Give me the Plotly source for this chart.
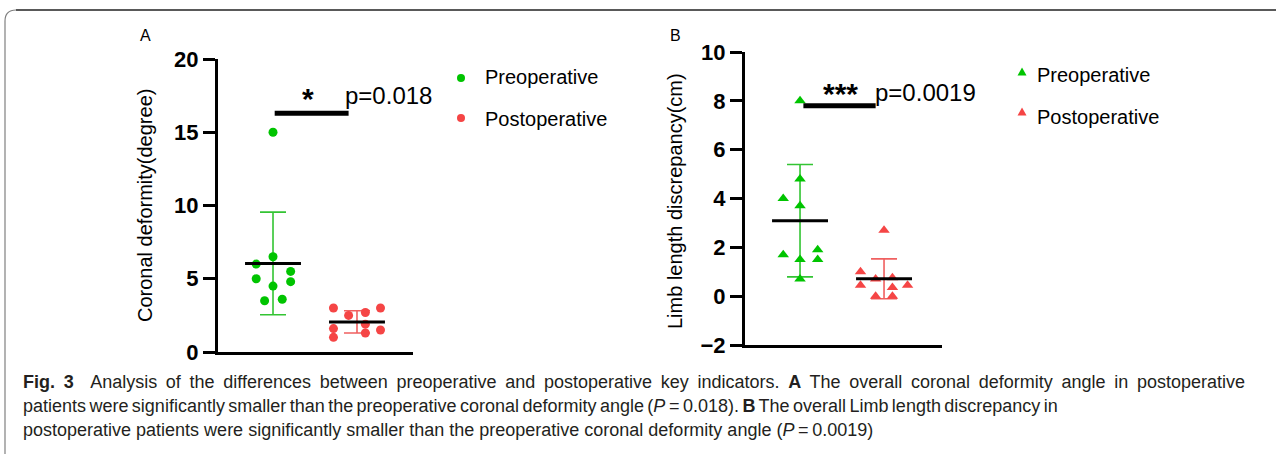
import numpy as np
import plotly.graph_objects as go

W, H = 1276, 454

groups = ["Preoperative", "Postoperative"]
group_pos = [1, 2]

# Panel A: coronal deformity (degree)
a_pre = [15.0, 6.5, 6.0, 5.5, 5.0, 4.8, 4.5, 3.5, 3.6]
a_pre_jit = [0, 0, -0.2, 0.21, -0.2, 0.21, 0, -0.1, 0.11]
a_post = [3.0, 2.5, 2.7, 3.0, 1.6, 1.0, 1.9, 1.3, 1.5]
a_post_jit = [-0.28, -0.1, 0.1, 0.28, -0.28, -0.28, 0.1, 0.1, 0.28]
a_ticks = [0, 5, 10, 15, 20]
a_p_text = "p=0.018"
a_star = "*"
a_sig_y = 16.3

# Panel B: limb length discrepancy (cm)
b_pre = [8.0, 4.8, 4.0, 3.7, 1.7, 1.9, 1.5, 1.5, 0.7]
b_pre_jit = [0, 0, -0.2, 0, -0.2, 0.21, 0, 0.21, 0]
b_post = [2.7, 1.0, 0.45, 0.7, 0.75, 0.35, 0.45, 0.0, 0.0]
b_post_jit = [0, -0.28, -0.28, -0.1, 0.1, 0.1, 0.28, -0.1, 0.1]
b_ticks = [-2, 0, 2, 4, 6, 8, 10]
b_p_text = "p=0.0019"
b_star = "***"
b_sig_y = 7.8

caption_lines = [
    "<b>Fig. 3</b>  Analysis of the differences between preoperative and postoperative key indicators. <b>A</b> The overall coronal deformity angle in postoperative",
    "patients were significantly smaller than the preoperative coronal deformity angle (<i>P</i>\u2009=\u20090.018). <b>B</b> The overall Limb length discrepancy in",
    "postoperative patients were significantly smaller than the preoperative coronal deformity angle (<i>P</i>\u2009=\u20090.0019)",
]
caption_word_spacing = ["3.7px", "-1.6px", "0px"]

GREEN = "#00c400"
GREEN_EB = "#33c433"
RED = "#f54545"
RED_EB = "#f06060"
FONT = "Liberation Sans, Arial, sans-serif"


def px(x):
    return x / W


def py(y):
    return 1 - y / H


fig = go.Figure()


def add_panel(xa, ya, pre, pre_j, post, post_j, symbol):
    for vals, jit, c, col, ecol in [
        (pre, pre_j, group_pos[0], GREEN, GREEN_EB),
        (post, post_j, group_pos[1], RED, RED_EB),
    ]:
        v = np.array(vals)
        m = v.mean()
        sd = v.std(ddof=1)
        # error bar (SD)
        fig.add_trace(go.Scatter(
            x=[c], y=[m], mode="markers", marker=dict(opacity=0, size=1),
            error_y=dict(type="data", array=[sd], visible=True, color=ecol,
                         thickness=1.6, width=13),
            xaxis=xa, yaxis=ya, showlegend=False, hoverinfo="skip"))
        # points
        fig.add_trace(go.Scatter(
            x=[c + j for j in jit], y=vals, mode="markers",
            marker=dict(color=col, size=9 if symbol == "circle" else 10, symbol=symbol,
                        line=dict(width=0)),
            xaxis=xa, yaxis=ya, showlegend=False))
        # mean line
        fig.add_trace(go.Scatter(
            x=[c - 0.333, c + 0.333], y=[m, m], mode="lines",
            line=dict(color="black", width=3),
            xaxis=xa, yaxis=ya, showlegend=False, hoverinfo="skip"))


add_panel("x", "y", a_pre, a_pre_jit, a_post, a_post_jit, "circle")
add_panel("x2", "y2", b_pre, b_pre_jit, b_post, b_post_jit, "triangle-up")

# significance bars
fig.add_trace(go.Scatter(x=[1.02, 1.9], y=[a_sig_y, a_sig_y], mode="lines",
                         line=dict(color="black", width=5), xaxis="x", yaxis="y",
                         showlegend=False))
fig.add_trace(go.Scatter(x=[1.04, 1.9], y=[b_sig_y, b_sig_y], mode="lines",
                         line=dict(color="black", width=5), xaxis="x2", yaxis="y2",
                         showlegend=False))

axis_common = dict(showline=True, linewidth=3, linecolor="black", showgrid=False,
                   zeroline=False, automargin=False)
fig.update_layout(
    template="none",
    width=W, height=H,
    margin=dict(l=0, r=0, t=0, b=0, pad=0, autoexpand=False),
    paper_bgcolor="white", plot_bgcolor="white",
    xaxis=dict(domain=[px(218), px(413)], range=[0.345, 2.667], showticklabels=False,
               ticks="", anchor="y", **axis_common),
    yaxis=dict(domain=[py(352), py(59)], range=[0, 20], tickvals=a_ticks,
               ticks="outside", ticklen=12, tickwidth=3, tickcolor="black",
               tickfont=dict(family=FONT, size=22, color="black", weight="bold"),
               anchor="x", **axis_common),
    xaxis2=dict(domain=[px(745), px(942)], range=[0.345, 2.69], showticklabels=False,
                ticks="", anchor="y2", **axis_common),
    yaxis2=dict(domain=[py(345), py(52)], range=[-2, 10], tickvals=b_ticks,
                ticks="outside", ticklen=12, tickwidth=3, tickcolor="black",
                tickfont=dict(family=FONT, size=22, color="black", weight="bold"),
                anchor="x2", **axis_common),
    font=dict(family=FONT, color="black"),
    showlegend=False,
)

ann = []
# significance text
ann.append(dict(x=1.42, y=17.3, xref="x", yref="y", text=a_star, showarrow=False,
                font=dict(size=30, family=FONT, weight="bold"), xanchor="center", yanchor="middle"))
ann.append(dict(x=1.83, y=17.5, xref="x", yref="y", text=a_p_text, showarrow=False,
                font=dict(size=24, family=FONT), xanchor="left", yanchor="middle"))
ann.append(dict(x=1.48, y=8.3, xref="x2", yref="y2", text=b_star, showarrow=False,
                font=dict(size=30, family=FONT, weight="bold"), xanchor="center", yanchor="middle"))
ann.append(dict(x=1.87, y=8.36, xref="x2", yref="y2", text=b_p_text, showarrow=False,
                font=dict(size=24, family=FONT), xanchor="left", yanchor="middle"))

# axis titles
ann.append(dict(x=px(145), y=py(206), xref="paper", yref="paper",
                text="Coronal deformity(degree)", textangle=-90, showarrow=False,
                font=dict(size=20, family=FONT), xanchor="center", yanchor="middle"))
ann.append(dict(x=px(675), y=py(201), xref="paper", yref="paper",
                text="Limb length discrepancy(cm)", textangle=-90, showarrow=False,
                font=dict(size=20, family=FONT), xanchor="center", yanchor="middle"))

# panel labels
ann.append(dict(x=px(145), y=py(35), xref="paper", yref="paper", text="A",
                showarrow=False, font=dict(size=16, family=FONT),
                xanchor="center", yanchor="middle"))
ann.append(dict(x=px(675), y=py(35), xref="paper", yref="paper", text="B",
                showarrow=False, font=dict(size=16, family=FONT),
                xanchor="center", yanchor="middle"))

# legends (manual)
leg = [
    (461, 78, 483, 77, groups[0], GREEN, "circle"),
    (461, 118, 483, 119, groups[1], RED, "circle"),
    (1022, 72, 1035, 75, groups[0], GREEN, "tri"),
    (1022, 112, 1035, 117, groups[1], RED, "tri"),
]
shapes = []
for mx, my, tx, ty, label, col, kind in leg:
    ann.append(dict(x=px(tx), y=py(ty), xref="paper", yref="paper", text=label,
                    showarrow=False, font=dict(size=20, family=FONT),
                    xanchor="left", yanchor="middle"))
    if kind == "circle":
        shapes.append(dict(type="circle", xref="paper", yref="paper",
                           xsizemode="pixel", ysizemode="pixel",
                           xanchor=px(mx), yanchor=py(my), x0=-4, x1=4, y0=-4, y1=4,
                           fillcolor=col, line=dict(width=0)))
    else:
        shapes.append(dict(type="path", xref="paper", yref="paper",
                           xsizemode="pixel", ysizemode="pixel",
                           xanchor=px(mx), yanchor=py(my),
                           path="M -4.5,-3.5 L 4.5,-3.5 L 0,4.5 Z",
                           fillcolor=col, line=dict(width=0)))

# caption
for i, line in enumerate(caption_lines):
    ann.append(dict(x=px(21), y=py(382 + 24 * i), xref="paper", yref="paper",
                    text=f'<span style="word-spacing:{caption_word_spacing[i]}">{line}</span>',
                    showarrow=False, align="left",
                    font=dict(size=18, family=FONT, color="#231f20"),
                    xanchor="left", yanchor="middle"))

# frame
shapes.append(dict(type="path", xref="paper", yref="paper",
                   path=f"M {px(5)},{py(460)} L {px(5)},{py(21)} Q {px(5)},{py(10)} {px(16)},{py(10)}",
                   line=dict(color="#808080", width=1.2)))
shapes.append(dict(type="line", xref="paper", yref="paper",
                   x0=px(16), x1=px(1280), y0=py(10), y1=py(10),
                   line=dict(color="#222222", width=1.5)))

fig.update_layout(annotations=ann, shapes=shapes)
fig.write_html("out.html",
               config={"displayModeBar": False},
               post_script="document.body.style.margin='0';document.body.style.overflow='hidden';")
